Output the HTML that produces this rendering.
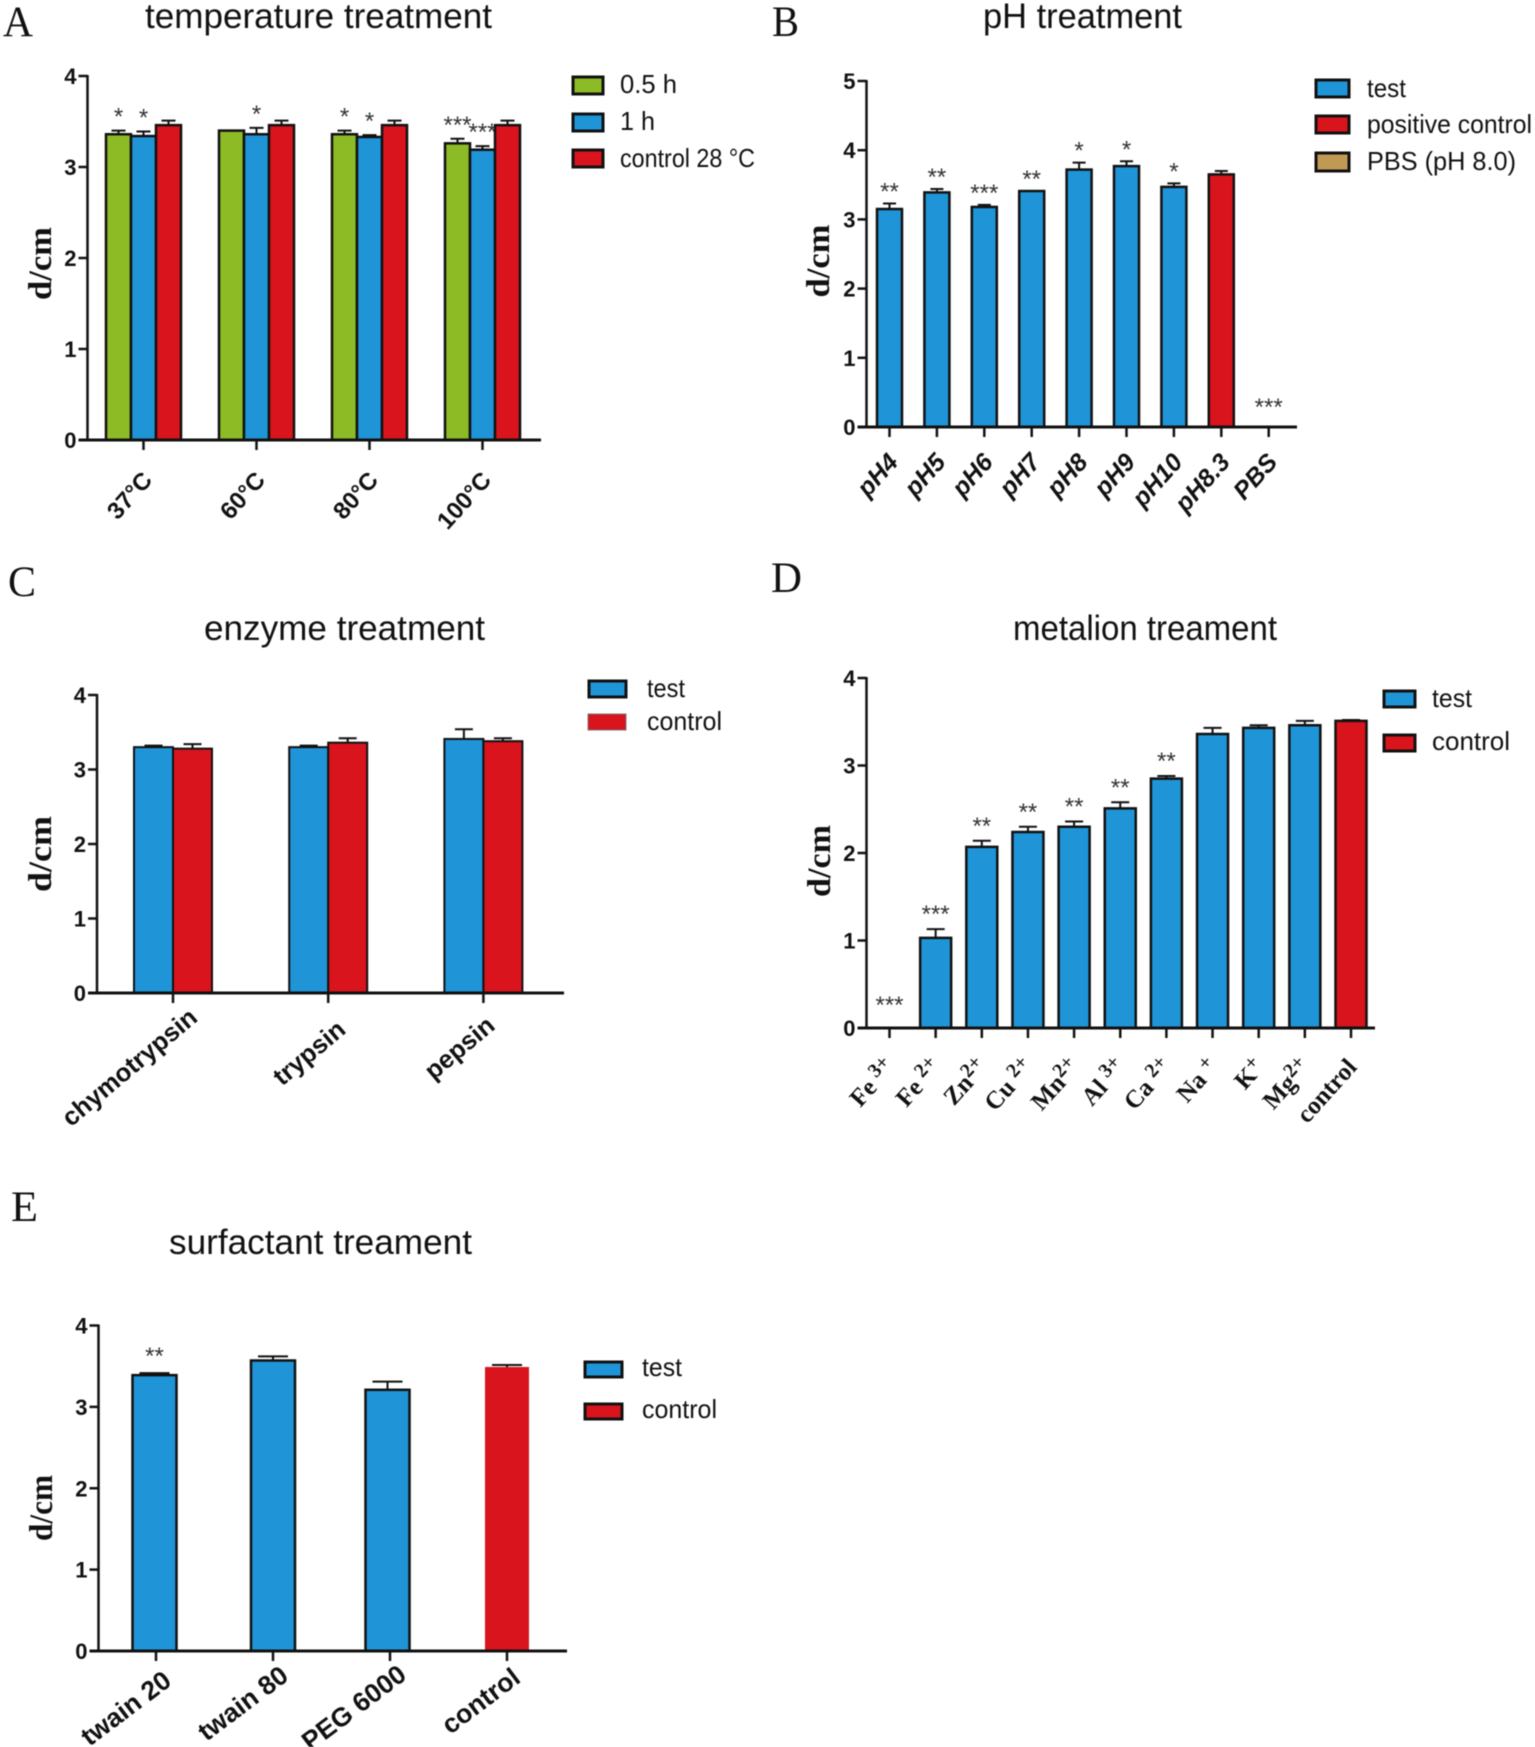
<!DOCTYPE html>
<html lang="en">
<head>
<meta charset="utf-8">
<title>Treatment stability bar charts</title>
<style>
html,body{margin:0;padding:0;background:#fff;}
svg{display:block;filter:blur(.5px);}
text{fill:#111;font-family:"Liberation Sans",sans-serif;}
.letter{font-family:"Liberation Serif",serif;font-size:43px;}
.title{font-size:35px;}
.legend{font-size:26px;}
.ytitle{font-family:"Liberation Serif",serif;font-weight:bold;font-size:33px;}
.sw{stroke:#111;stroke-width:3;}
.star{fill:#333;}
</style>
</head>
<body>
<svg id="figure" xmlns="http://www.w3.org/2000/svg" width="1535" height="1747" viewBox="0 0 1535 1747">
  <rect width="1535" height="1747" fill="#fff"/>

  <g id="panel-a">
    <text class="letter" x="3" y="36" textLength="30" lengthAdjust="spacingAndGlyphs">A</text>
    <text class="title" x="145" y="28" textLength="347" lengthAdjust="spacingAndGlyphs">temperature treatment</text>
    <text class="ytitle" transform="translate(51,263.5) rotate(-90)" text-anchor="middle" textLength="73" lengthAdjust="spacingAndGlyphs">d/cm</text>
    <g>
      <rect class="sw" x="573" y="77" width="30" height="17" fill="#8cbb26"/>
      <text class="legend" x="620" y="93" textLength="57" lengthAdjust="spacingAndGlyphs">0.5 h</text>
      <rect class="sw" x="573" y="114" width="30" height="17" fill="#1f95d8"/>
      <text class="legend" x="620" y="130" textLength="35" lengthAdjust="spacingAndGlyphs">1 h</text>
      <rect class="sw" x="573" y="150" width="30" height="17" fill="#d9141c"/>
      <text class="legend" x="620" y="167" textLength="135" lengthAdjust="spacingAndGlyphs">control 28 °C</text>
    </g>
  </g>

  <g id="panel-b">
    <text class="letter" x="772" y="36" textLength="27" lengthAdjust="spacingAndGlyphs">B</text>
    <text class="title" x="983" y="28" textLength="199" lengthAdjust="spacingAndGlyphs">pH treatment</text>
    <text class="ytitle" transform="translate(829,261) rotate(-90)" text-anchor="middle" textLength="73" lengthAdjust="spacingAndGlyphs">d/cm</text>
    <g>
      <rect class="sw" x="1316" y="80" width="33" height="17" fill="#1f95d8"/>
      <text class="legend" x="1367" y="97" textLength="39" lengthAdjust="spacingAndGlyphs">test</text>
      <rect class="sw" x="1316" y="116" width="33" height="17" fill="#d9141c"/>
      <text class="legend" x="1367" y="133" textLength="165" lengthAdjust="spacingAndGlyphs">positive control</text>
      <rect class="sw" x="1316" y="153" width="33" height="18" fill="#c09a55"/>
      <text class="legend" x="1367" y="170" textLength="149" lengthAdjust="spacingAndGlyphs">PBS (pH 8.0)</text>
    </g>
  </g>

  <g id="panel-c">
    <text class="letter" x="8" y="596" textLength="28" lengthAdjust="spacingAndGlyphs">C</text>
    <text class="title" x="204" y="640" textLength="281" lengthAdjust="spacingAndGlyphs">enzyme treatment</text>
    <text class="ytitle" transform="translate(51,854) rotate(-90)" text-anchor="middle" textLength="76" lengthAdjust="spacingAndGlyphs">d/cm</text>
    <g>
      <rect class="sw" x="589" y="681" width="37" height="16" fill="#1f95d8"/>
      <text class="legend" x="647" y="697" textLength="38" lengthAdjust="spacingAndGlyphs">test</text>
      <rect x="588" y="714" width="38" height="16" fill="#d9141c" stroke="#777" stroke-width="1"/>
      <text class="legend" x="647" y="730" textLength="75" lengthAdjust="spacingAndGlyphs">control</text>
    </g>
  </g>

  <g id="panel-d">
    <text class="letter" x="771" y="592" textLength="31" lengthAdjust="spacingAndGlyphs">D</text>
    <text class="title" x="1013" y="640" textLength="264" lengthAdjust="spacingAndGlyphs">metalion treament</text>
    <text class="ytitle" transform="translate(830,861) rotate(-90)" text-anchor="middle" textLength="72" lengthAdjust="spacingAndGlyphs">d/cm</text>
    <g>
      <rect class="sw" x="1384" y="691" width="31" height="16" fill="#1f95d8"/>
      <text class="legend" x="1432" y="707" textLength="40" lengthAdjust="spacingAndGlyphs">test</text>
      <rect class="sw" x="1384" y="735" width="31" height="16" fill="#d9141c"/>
      <text class="legend" x="1432" y="750" textLength="78" lengthAdjust="spacingAndGlyphs">control</text>
    </g>
  </g>

  <g id="panel-e">
    <text class="letter" x="11" y="1221" textLength="27" lengthAdjust="spacingAndGlyphs">E</text>
    <text class="title" x="169" y="1254" textLength="303" lengthAdjust="spacingAndGlyphs">surfactant treament</text>
    <text class="ytitle" transform="translate(52,1508) rotate(-90)" text-anchor="middle" textLength="66" lengthAdjust="spacingAndGlyphs">d/cm</text>
    <g>
      <rect class="sw" x="585" y="1362" width="37" height="15" fill="#1f95d8"/>
      <text class="legend" x="642" y="1376" textLength="40" lengthAdjust="spacingAndGlyphs">test</text>
      <rect class="sw" x="585" y="1404" width="37" height="15" fill="#d9141c"/>
      <text class="legend" x="642" y="1418" textLength="75" lengthAdjust="spacingAndGlyphs">control</text>
    </g>
  </g>
</svg>

<script>
// Panel A: temperature treatment
const categoriesA = ["37°C", "60°C", "80°C", "100°C"];
const yTicksA = [0, 1, 2, 3, 4];
const valuesA05 = [3.36, 3.40, 3.36, 3.26];
const errorsA05 = [0.04, 0, 0.04, 0.05];
const starsA05 = ["*", "", "*", "***"];
const valuesA1 = [3.34, 3.36, 3.33, 3.19];
const errorsA1 = [0.05, 0.07, 0.02, 0.04];
const starsA1 = ["*", "*", "*", "***"];
const valuesAControl = [3.46, 3.46, 3.46, 3.46];
const errorsAControl = [0.05, 0.05, 0.05, 0.05];

// Panel B: pH treatment
const categoriesB = ["pH4", "pH5", "pH6", "pH7", "pH8", "pH9", "pH10", "pH8.3", "PBS"];
const yTicksB = [0, 1, 2, 3, 4, 5];
const valuesB = [3.15, 3.39, 3.18, 3.41, 3.72, 3.77, 3.47, 3.65, 0];
const errorsB = [0.08, 0.05, 0.03, 0, 0.10, 0.07, 0.05, 0.05, 0];
const starsB = ["**", "**", "***", "**", "*", "*", "*", "", "***"];

// Panel C: enzyme treatment
const categoriesC = ["chymotrypsin", "trypsin", "pepsin"];
const yTicksC = [0, 1, 2, 3, 4];
const valuesCTest = [3.30, 3.30, 3.41];
const errorsCTest = [0.02, 0.02, 0.13];
const valuesCControl = [3.28, 3.36, 3.38];
const errorsCControl = [0.06, 0.06, 0.04];

// Panel D: metal ion treatment
const categoriesD = ["Fe ", "Fe ", "Zn", "Cu ", "Mn", "Al ", "Ca ", "Na ", "K", "Mg", "control"];
const chargesD = ["3+", "2+", "2+", "2+", "2+", "3+", "2+", "+", "+", "2+", ""];
const yTicksD = [0, 1, 2, 3, 4];
const valuesD = [0, 1.03, 2.07, 2.24, 2.30, 2.51, 2.85, 3.36, 3.43, 3.46, 3.51];
const errorsD = [0, 0.10, 0.07, 0.06, 0.06, 0.07, 0.03, 0.07, 0.03, 0.05, 0.01];
const starsD = ["***", "***", "**", "**", "**", "**", "**", "", "", "", ""];

// Panel E: surfactant treatment
const categoriesE = ["twain 20", "twain 80", "PEG 6000", "control"];
const yTicksE = [0, 1, 2, 3, 4];
const valuesE = [3.39, 3.57, 3.21, 3.49];
const errorsE = [0.025, 0.05, 0.10, 0.025];
const starsE = ["**", "", "", ""];

const GREEN = "#8cbb26", BLUE = "#1f95d8", RED = "#d9141c";
const NS = "http://www.w3.org/2000/svg";

function mk(parent, tag, attrs, txt) {
  const el = document.createElementNS(NS, tag);
  for (const k in attrs) el.setAttribute(k, attrs[k]);
  if (txt !== undefined) el.textContent = txt;
  parent.appendChild(el);
  return el;
}

function drawPanel(p) {
  const root = document.getElementById(p.id);
  const g = mk(root, "g", {});
  
  

  const yMax = p.yTicks[p.yTicks.length - 1];
  const y = v => p.y0 - v * (p.y0 - p.yTop) / yMax;
  const x = i => p.x0 + i * p.step;
  const nSeries = p.series.length;

  // bars, error bars and significance marks
  p.categories.forEach((cat, i) => {
    p.series.forEach((s, j) => {
      const v = s.values[i];
      const e = s.errors[i];
      const shift = p.barShift ? p.barShift[i] : 0;
      const cx = x(i) + shift + (j - nSeries / 2 + 0.5) * p.barW;
      const color = s.colors ? s.colors[i] : s.color;
      if (e > 0) {
        const err = mk(g, "path", {
          d: "M" + cx + " " + y(v) + "V" + y(v + e) + "M" + (cx - p.capW / 2) + " " + y(v + e) + "H" + (cx + p.capW / 2),
          stroke: "#111", "stroke-width": 2, fill: "none"
        });
        
        
      }
      if (v > 0) {
        const noBorder = color === RED && p.redThin;
        const bar = mk(g, "rect", {
          x: cx - p.barW / 2, y: y(v), width: p.barW, height: p.y0 - y(v), fill: color,
          stroke: noBorder ? "none" : "#111", "stroke-width": p.barStroke
        });
        
        
      }
      if (s.stars && s.stars[i]) {
        const lift = p.starLift + (v + e === 0 ? 8 : 0);
        const star = mk(g, "text", {
          class: "star", x: cx, y: y(v + e) - lift, "text-anchor": "middle", "font-size": 24
        }, s.stars[i]);
        
        
      }
    });
  });

  // y axis
  const yAxis = mk(g, "path", {
    d: "M" + p.axisX + " " + (y(yMax) - 1) + "V" + (p.y0 + 1.5), stroke: "#111", "stroke-width": 2.5, fill: "none"
  });
  
  
  p.yTicks.forEach(t => {
    const tick = mk(g, "path", {
      d: "M" + (p.axisX - 9) + " " + y(t) + "H" + p.axisX, stroke: "#111", "stroke-width": 2.5, fill: "none"
    });
    
    
    const lbl = mk(g, "text", {
      x: p.axisX - 11, y: y(t) + 8, "text-anchor": "end", "font-size": 22, "font-weight": "bold"
    }, t);
    
    
  });

  // x axis
  const xAxis = mk(g, "path", {
    d: "M" + (p.axisX - 9) + " " + p.y0 + "H" + p.xEnd, stroke: "#111", "stroke-width": 3, fill: "none"
  });
  
  

  p.categories.forEach((cat, i) => {
    const tick = mk(g, "path", {
      d: "M" + x(i) + " " + p.y0 + "V" + (p.y0 + 10), stroke: "#111", "stroke-width": 2.5, fill: "none"
    });
    
    
    const nudge = p.labelNudge ? p.labelNudge[i] : p.labelOffset;
    const lx = x(i) + nudge[0], ly = p.y0 + nudge[1];
    const lbl = mk(g, "text", {
      transform: "translate(" + lx + "," + ly + ") rotate(" + p.labelAngle + ")",
      "text-anchor": "end", "font-size": p.labelSize, "font-weight": "bold",
      "font-style": p.labelStyle || "normal"
    });
    if (p.labelFont) lbl.style.fontFamily = p.labelFont;
    
    
    lbl.appendChild(document.createTextNode(cat));
    if (p.charges && p.charges[i]) {
      const sup = mk(lbl, "tspan", { dy: -8, "font-size": p.labelSize * 0.8 }, p.charges[i]);
      
      
    }
  });
}

const panelA = {
  id: "panel-a", categories: categoriesA, yTicks: yTicksA,
  series: [
    { color: GREEN, values: valuesA05, errors: errorsA05, stars: starsA05 },
    { color: BLUE, values: valuesA1, errors: errorsA1, stars: starsA1 },
    { color: RED, values: valuesAControl, errors: errorsAControl }
  ],
  axisX: 87.5, y0: 440, yTop: 76, xEnd: 541, x0: 143.5, step: 113, barW: 25, capW: 14, barStroke: 2.5, starLift: 6,
  labelOffset: [10, 41], labelAngle: -48, labelSize: 24
};
const panelB = {
  id: "panel-b", categories: categoriesB, yTicks: yTicksB,
  series: [{ colors: [BLUE, BLUE, BLUE, BLUE, BLUE, BLUE, BLUE, RED, BLUE], values: valuesB, errors: errorsB, stars: starsB }],
  axisX: 866.5, y0: 427, yTop: 81, xEnd: 1297, x0: 889.5, step: 47.4, barW: 25, capW: 13, barStroke: 2.5, starLift: 4,
  labelOffset: [10, 36], labelAngle: -48, labelSize: 25, labelStyle: "italic"
};
const panelC = {
  id: "panel-c", categories: categoriesC, yTicks: yTicksC,
  series: [
    { color: BLUE, values: valuesCTest, errors: errorsCTest },
    { color: RED, values: valuesCControl, errors: errorsCControl }
  ],
  axisX: 97, y0: 993, yTop: 695, xEnd: 564, x0: 173, step: 155.2, barW: 39, capW: 18, barStroke: 2, starLift: 3,
  labelNudge: [[26, 27], [19, 39], [13, 35]], labelAngle: -40, labelSize: 25.5
};
const panelD = {
  id: "panel-d", categories: categoriesD, charges: chargesD, yTicks: yTicksD,
  series: [{ colors: [BLUE, BLUE, BLUE, BLUE, BLUE, BLUE, BLUE, BLUE, BLUE, BLUE, RED], values: valuesD, errors: errorsD, stars: starsD }],
  axisX: 866.5, y0: 1028, yTop: 678, xEnd: 1375, x0: 889.5, step: 46.15, barW: 31, capW: 18, barStroke: 2.5, starLift: 7,
  labelOffset: [7, 40], labelAngle: -48, labelSize: 25, labelFont: '"Liberation Serif", serif'
};
const panelE = {
  id: "panel-e", categories: categoriesE, yTicks: yTicksE,
  series: [{ colors: [BLUE, BLUE, BLUE, RED], values: valuesE, errors: errorsE, stars: starsE }],
  axisX: 98.5, y0: 1651, yTop: 1325.5, xEnd: 567, x0: 156, step: 117, barW: 44, capW: 30, barStroke: 2.5, redThin: true, starLift: 9,
  barShift: [-1.5, 0, -2.5, 0],
  labelNudge: [[17, 33], [17, 28], [18, 27], [15, 30]], labelAngle: -37, labelSize: 26.5
};

[panelA, panelB, panelC, panelD, panelE].forEach(drawPanel);
</script>
</body>
</html>
